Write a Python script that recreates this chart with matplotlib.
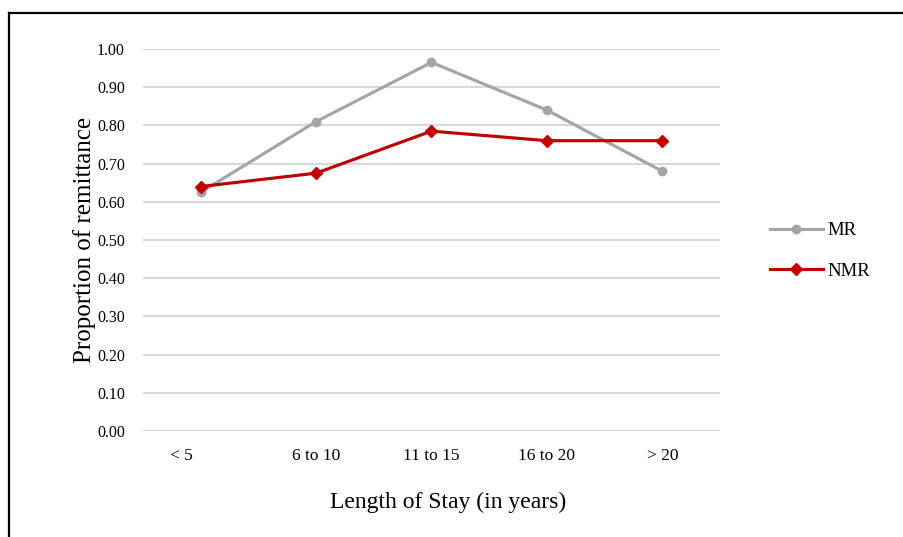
import matplotlib.pyplot as plt
from matplotlib.lines import Line2D

plt.rcParams['font.family'] = ['Liberation Serif', 'DejaVu Serif']

categories = ["< 5         ", "6 to 10", "11 to 15", "16 to 20", "> 20"]
mr = [0.625, 0.81, 0.965, 0.84, 0.68]
nmr = [0.64, 0.675, 0.785, 0.76, 0.76]

W, H = 904, 537
fig = plt.figure(figsize=(W / 100, H / 100), dpi=100)
ax = fig.add_axes([143 / W, 106 / H, 577 / W, 382 / H])

x = range(len(categories))
ax.plot(x, mr, color="#A5A5A5", lw=2.25, marker="o", markersize=6, label="MR", zorder=3)
ax.plot(x, nmr, color="#C00000", lw=2.25, marker="D", markersize=6, label="NMR", zorder=4)

ax.set_xlim(-0.5, len(categories) - 0.5)
ax.set_ylim(0, 1.0)
ax.set_yticks([i / 10 for i in range(11)])
ax.set_yticklabels([f"{i / 10:.2f}" for i in range(11)], fontsize=11.5)
ax.set_xticks(list(x))
ax.set_xticklabels(categories, fontsize=12.5)
ax.tick_params(axis="y", length=0, pad=13)
ax.tick_params(axis="x", length=0, pad=12)
ax.grid(axis="y", color="#D9D9D9", lw=1.5)
ax.set_axisbelow(True)
for s in ax.spines.values():
    s.set_visible(False)

ax.set_ylabel("Proportion of remittance", fontsize=18, labelpad=1)
ax.set_xlabel("Length of Stay (in years)", fontsize=17)
ax.xaxis.set_label_coords((448 - 143) / 577, -(502 - 431) / 382)
ax.xaxis.label.set_va("center")

ax.legend(loc="center left", bbox_to_anchor=(770 / W, 1 - 251 / H), bbox_transform=fig.transFigure,
          frameon=False, fontsize=13.5, handlelength=2.8, handletextpad=0.25, labelspacing=1.25,
          borderaxespad=0, borderpad=0)

# outer frame: top and left edges only
fig.add_artist(Line2D([9 / W, 9 / W], [0, 1 - 13 / H], color="black", lw=1.6, transform=fig.transFigure))
fig.add_artist(Line2D([9 / W, 1], [1 - 13 / H, 1 - 13 / H], color="black", lw=1.6, transform=fig.transFigure))

fig.savefig("out.png", dpi=100)
